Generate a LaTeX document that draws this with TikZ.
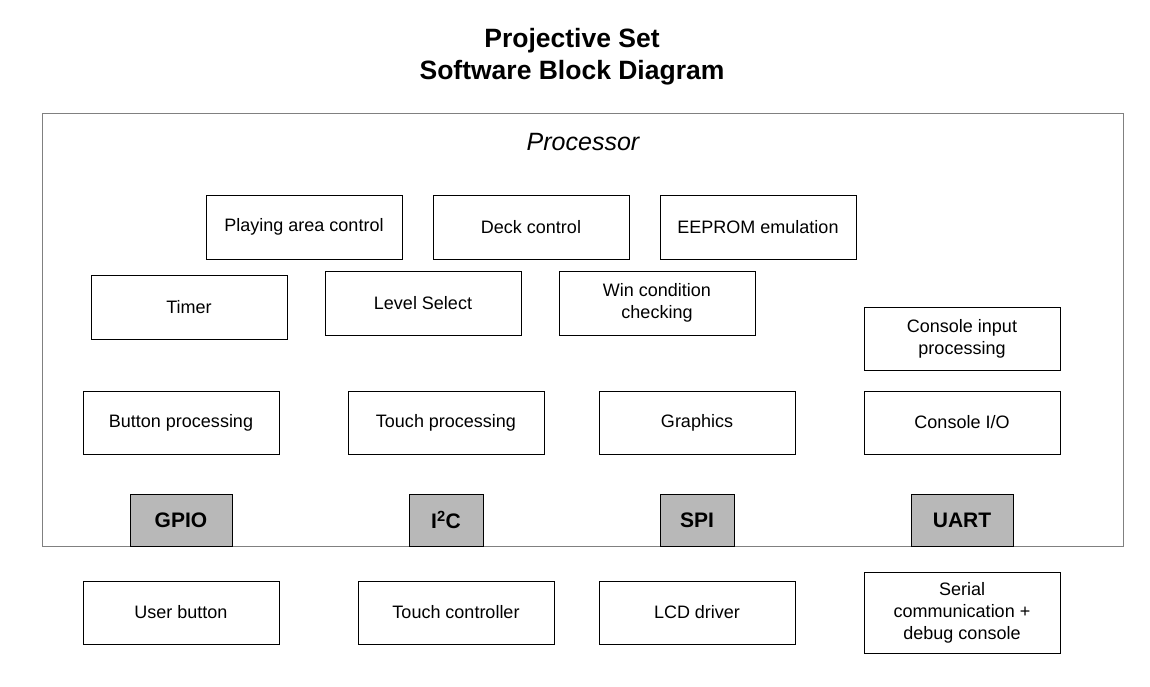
\documentclass[tikz,border=0pt]{standalone}
\usepackage{fontspec}
\setmainfont{Liberation Sans}
\begin{document}
\begin{tikzpicture}[x=1pt,y=-1pt,
  blk/.style={draw=black,line width=1pt,fill=white,align=center,font=\fontsize{18}{22}\selectfont,inner sep=0pt},
  bus/.style={draw=black,line width=1pt,fill=black!28,font=\fontsize{21}{24}\selectfont\bfseries,inner sep=0pt},
  proc/.style={draw=black!50,line width=1pt}]
\useasboundingbox (0,0) rectangle (1150,686);
\node[font=\fontsize{26.5}{32}\selectfont\bfseries,align=center] (title) at (572,57) {Projective Set\\Software Block Diagram};
\node[proc,minimum width=1081pt,minimum height=433pt,inner sep=0pt] (proc) at (582.5,329.5) {};
\node[font=\fontsize{25}{30}\selectfont\itshape] (proclbl) at (583,142) {Processor};
% processor blocks
\node[blk,minimum width=196pt,minimum height=64pt] (play) at (304,227) {Playing area control};
\node[blk,minimum width=196pt,minimum height=64pt] (deck) at (531,227) {Deck control};
\node[blk,minimum width=196pt,minimum height=64pt] (eep) at (758,227) {EEPROM emulation};
\node[blk,minimum width=196pt,minimum height=64pt] (timer) at (189,307) {Timer};
\node[blk,minimum width=196pt,minimum height=64pt] (level) at (423,303) {Level Select};
\node[blk,minimum width=196pt,minimum height=64pt] (win) at (657,303) {Win condition\\checking};
\node[blk,minimum width=196pt,minimum height=63pt] (cin) at (962,338.5) {Console input\\processing};
\node[blk,minimum width=196pt,minimum height=63pt] (btn) at (181,422.5) {Button processing};
\node[blk,minimum width=196pt,minimum height=63pt] (touch) at (446,422.5) {Touch processing};
\node[blk,minimum width=196pt,minimum height=63pt] (gfx) at (697,422.5) {Graphics};
\node[blk,minimum width=196pt,minimum height=63pt] (cio) at (962,422.5) {Console I/O};
% buses
\node[bus,minimum width=102pt,minimum height=52pt] (gpio) at (181,520) {GPIO};
\node[bus,minimum width=74pt,minimum height=52pt] (i2c) at (446,520) {I\textsuperscript{2}C};
\node[bus,minimum width=74pt,minimum height=52pt] (spi) at (697,520) {SPI};
\node[bus,minimum width=102pt,minimum height=52pt] (uart) at (962,520) {UART};
% external
\node[blk,minimum width=196pt,minimum height=63pt] (ubtn) at (181,612.5) {User button};
\node[blk,minimum width=196pt,minimum height=63pt] (tctl) at (456,612.5) {Touch controller};
\node[blk,minimum width=196pt,minimum height=63pt] (lcd) at (697,612.5) {LCD driver};
\node[blk,minimum width=196pt,minimum height=81pt] (ser) at (962,612.5) {Serial\\communication +\\debug console};
\end{tikzpicture}
\end{document}
